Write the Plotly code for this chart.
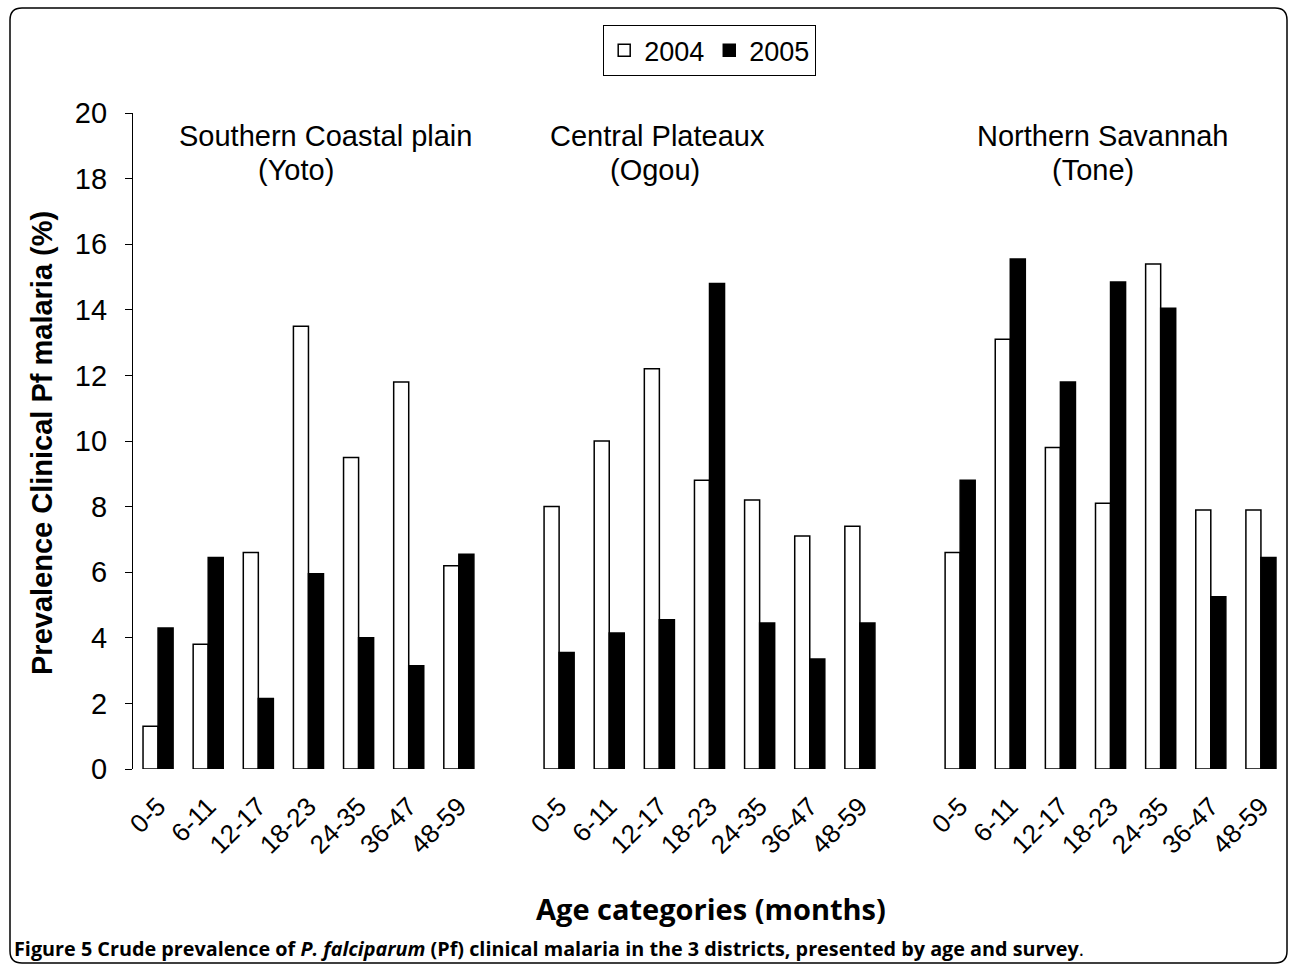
import plotly.graph_objects as go

# ---- data ----
ages = ["0-5", "6-11", "12-17", "18-23", "24-35", "36-47", "48-59"]
district_line1 = ["Southern Coastal plain", "Central Plateaux", "Northern Savannah"]
district_line2 = ["(Yoto)", "(Ogou)", "(Tone)"]
years = ["2004", "2005"]

southern_2004 = [1.3, 3.8, 6.6, 13.5, 9.5, 11.8, 6.2]
southern_2005 = [4.3, 6.45, 2.15, 5.95, 4.0, 3.15, 6.55]
central_2004 = [8.0, 10.0, 12.2, 8.8, 8.2, 7.1, 7.4]
central_2005 = [3.55, 4.15, 4.55, 14.8, 4.45, 3.35, 4.45]
northern_2004 = [6.6, 13.1, 9.8, 8.1, 15.4, 7.9, 7.9]
northern_2005 = [8.8, 15.55, 11.8, 14.85, 14.05, 5.25, 6.45]

values_2004 = southern_2004 + central_2004 + northern_2004
values_2005 = southern_2005 + central_2005 + northern_2005

# positions: one empty slot between districts
step = len(ages) + 1
xpos = [g * step + i for g in range(3) for i in range(len(ages))]
ticktext = ages * 3

# ---- layout geometry (pixels) ----
W, H = 1290, 966
L, R = 133, 1286
T, B = 113, 769


def px(x):
    return (x - L) / (R - L)


def py(y):
    return (B - y) / (B - T)


FONT = "Liberation Sans, Arial, sans-serif"
CAP_FONT = "Open Sans, Noto Sans, sans-serif"

fig = go.Figure()
fig.add_trace(go.Bar(
    x=xpos, y=values_2004, name=years[0],
    marker=dict(color="white", line=dict(color="black", width=1.5)),
))
fig.add_trace(go.Bar(
    x=xpos, y=values_2005, name=years[1],
    marker=dict(color="black", line=dict(color="black", width=1.5)),
))

annotations = []
line1_x = [325, 657, 1103]
line2_x = [296, 655, 1093]
for i in range(3):
    annotations.append(dict(
        text=district_line1[i], x=px(line1_x[i]), y=py(136), xref="paper", yref="paper",
        showarrow=False, xanchor="center", yanchor="middle",
        font=dict(family=FONT, size=29, color="black")))
    annotations.append(dict(
        text=district_line2[i], x=px(line2_x[i]), y=py(170), xref="paper", yref="paper",
        showarrow=False, xanchor="center", yanchor="middle",
        font=dict(family=FONT, size=29, color="black")))

# y axis title
annotations.append(dict(
    text="<b>Prevalence Clinical Pf malaria (%)</b>", x=px(42), y=py(443),
    xref="paper", yref="paper", showarrow=False, textangle=-90,
    xanchor="center", yanchor="middle",
    font=dict(family=FONT, size=29, color="black")))

# x axis title
annotations.append(dict(
    text="<b>Age categories (months)</b>", x=px(711), y=py(908),
    xref="paper", yref="paper", showarrow=False,
    xanchor="center", yanchor="middle",
    font=dict(family=CAP_FONT, size=29, color="black")))

# caption
annotations.append(dict(
    text="<b>Figure 5 Crude prevalence of <i>P. falciparum</i> (Pf) clinical malaria in the 3 districts, presented by age and survey</b>.",
    x=px(12), y=py(948), xref="paper", yref="paper", showarrow=False,
    xanchor="left", yanchor="middle",
    font=dict(family=CAP_FONT, size=19.8, color="black")))

# rounded outer border
x0, x1, y0, y1, r = 10, 1287, 8, 963, 12
path = (
    f"M {px(x0 + r)},{py(y0)} L {px(x1 - r)},{py(y0)} "
    f"Q {px(x1)},{py(y0)} {px(x1)},{py(y0 + r)} "
    f"L {px(x1)},{py(y1 - r)} Q {px(x1)},{py(y1)} {px(x1 - r)},{py(y1)} "
    f"L {px(x0 + r)},{py(y1)} Q {px(x0)},{py(y1)} {px(x0)},{py(y1 - r)} "
    f"L {px(x0)},{py(y0 + r)} Q {px(x0)},{py(y0)} {px(x0 + r)},{py(y0)} Z"
)
shapes = [dict(type="path", path=path, xref="paper", yref="paper",
               line=dict(color="black", width=1.5), layer="above")]

fig.update_layout(
    width=W, height=H,
    margin=dict(l=L, r=W - R, t=T, b=H - B, autoexpand=False),
    paper_bgcolor="white", plot_bgcolor="white",
    barmode="group", bargap=0.4, bargroupgap=0,
    showlegend=True,
    legend=dict(orientation="h", x=0.5, xanchor="center", y=py(25), yanchor="top",
                bordercolor="black", borderwidth=1.2, bgcolor="white",
                font=dict(family=FONT, size=27, color="black"),
                itemwidth=30, traceorder="normal"),
    annotations=annotations,
    shapes=shapes,
    xaxis=dict(range=[-0.5, 3 * step - 1.5], tickmode="array", tickvals=xpos,
               ticktext=ticktext, tickangle=-45, showline=False, ticks="",
               showgrid=False, zeroline=False, ticklabelstandoff=16,
               tickfont=dict(family=FONT, size=26, color="black")),
    yaxis=dict(range=[0, 20], dtick=2, tick0=0, showline=True, linecolor="black",
               linewidth=1.2, ticks="outside", ticklen=7, tickcolor="black",
               showgrid=False, zeroline=False, ticklabelstandoff=12,
               tickfont=dict(family=FONT, size=29, color="black")),
)

fig.write_html("out.html", config={"displayModeBar": False},
               post_script="document.body.style.margin='0';document.body.style.overflow='hidden';")
